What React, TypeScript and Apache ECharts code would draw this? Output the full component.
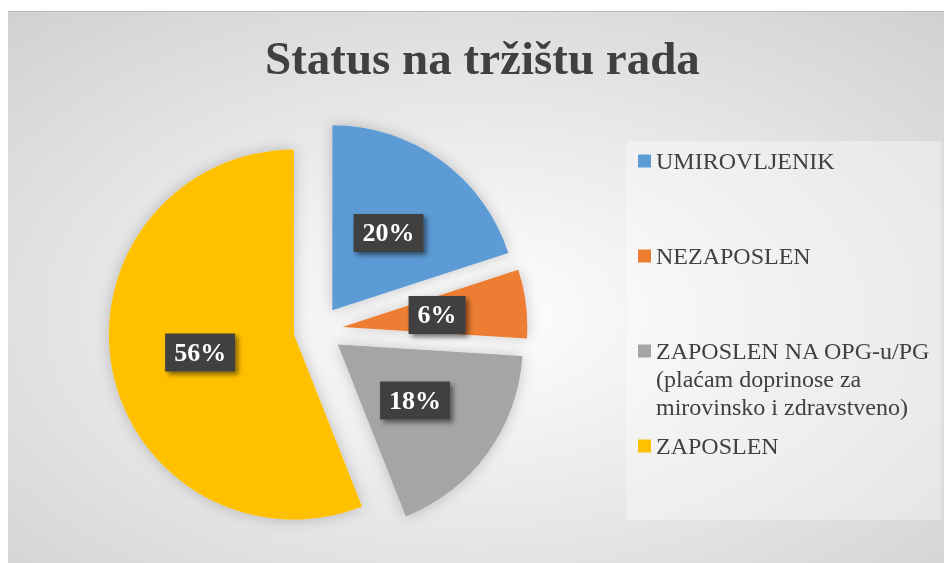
import React, { useEffect, useRef } from "react";
import * as echarts from "echarts";

const titleText = "Status na tržištu rada";
const categories = [
  "UMIROVLJENIK",
  "NEZAPOSLEN",
  "ZAPOSLEN NA OPG-u/PG (plaćam doprinose za mirovinsko i zdravstveno)",
  "ZAPOSLEN",
];
const legendLines: string[][] = [
  ["UMIROVLJENIK"],
  ["NEZAPOSLEN"],
  ["ZAPOSLEN NA OPG-u/PG", "(plaćam doprinose za", "mirovinsko i zdravstveno)"],
  ["ZAPOSLEN"],
];
const values = [20, 6, 18, 56];
const colors = ["#5B9BD5", "#ED7D31", "#A5A5A5", "#FFC000"];

const FONT = "'Liberation Serif', 'Times New Roman', serif";

export default function App() {
  const ref = useRef<HTMLDivElement>(null);
  useEffect(() => {
    if (!ref.current) return;
    const chart = echarts.init(ref.current, undefined, { renderer: "svg" });
    const lineH = 28;
    const markerCenters = [149, 244, 339, 434];
    const legends = categories.map((name, i) => {
      const lines = legendLines[i];
      const extra = lines.length - 1;
      const shown = [...Array(extra).fill(" "), ...lines];
      const itemH = shown.length * lineH;
      return {
        data: [name],
        orient: "vertical",
        left: 630,
        top: markerCenters[i] - itemH / 2,
        padding: 0,
        itemWidth: 13,
        itemHeight: 13,
        itemGap: 0,
        icon: "rect",
        selectedMode: false,
        formatter: () => shown.join("\n"),
        textStyle: {
          fontFamily: FONT,
          fontSize: 24,
          lineHeight: lineH,
          color: "#404040",
        },
      };
    });
    chart.setOption({
      animation: false,
      backgroundColor: new echarts.graphic.RadialGradient(0.5, 0.55, 0.95, [
        { offset: 0, color: "#ffffff" },
        { offset: 1, color: "#c4c4c4" },
      ]),
      title: {
        text: titleText,
        left: 252,
        top: 17,
        padding: 5,
        textStyle: {
          fontFamily: FONT,
          fontSize: 47,
          fontWeight: "bold",
          color: "#404040",
        },
      },
      graphic: [
        {
          type: "rect",
          shape: { x: 618, y: 129, width: 315, height: 379 },
          style: { fill: "rgba(255,255,255,0.35)" },
          silent: true,
          z: 0,
        },
      ],
      legend: legends,
      series: [
        {
          type: "pie",
          center: [310, 318],
          radius: [0, 185],
          startAngle: 90,
          clockwise: true,
          selectedMode: "multiple",
          selectedOffset: 24.5,
          silent: true,
          emphasis: { disabled: true },
          itemStyle: {
            shadowBlur: 14,
            shadowColor: "rgba(0,0,0,0.22)",
          },
          label: {
            show: true,
            position: "inside",
            formatter: (p: any) => Math.round(p.percent) + "%",
            fontFamily: FONT,
            fontSize: 26,
            fontWeight: "bold",
            color: "#ffffff",
            backgroundColor: "#404040",
            padding: [6, 9],
            lineHeight: 26,
            shadowColor: "rgba(0,0,0,0.5)",
            shadowBlur: 5,
            shadowOffsetX: 3,
            shadowOffsetY: 3,
          },
          labelLine: { show: false },
          data: categories.map((name, i) => ({
            name,
            value: values[i],
            selected: true,
            itemStyle: { color: colors[i] },
          })),
        },
      ],
    });
    return () => chart.dispose();
  }, []);
  return (
    <div
      ref={ref}
      style={{
        position: "fixed",
        left: 8,
        top: 11,
        width: 936,
        height: 552,
        borderTop: "1px solid #b8b8b8",
        boxSizing: "border-box",
      }}
    />
  );
}
